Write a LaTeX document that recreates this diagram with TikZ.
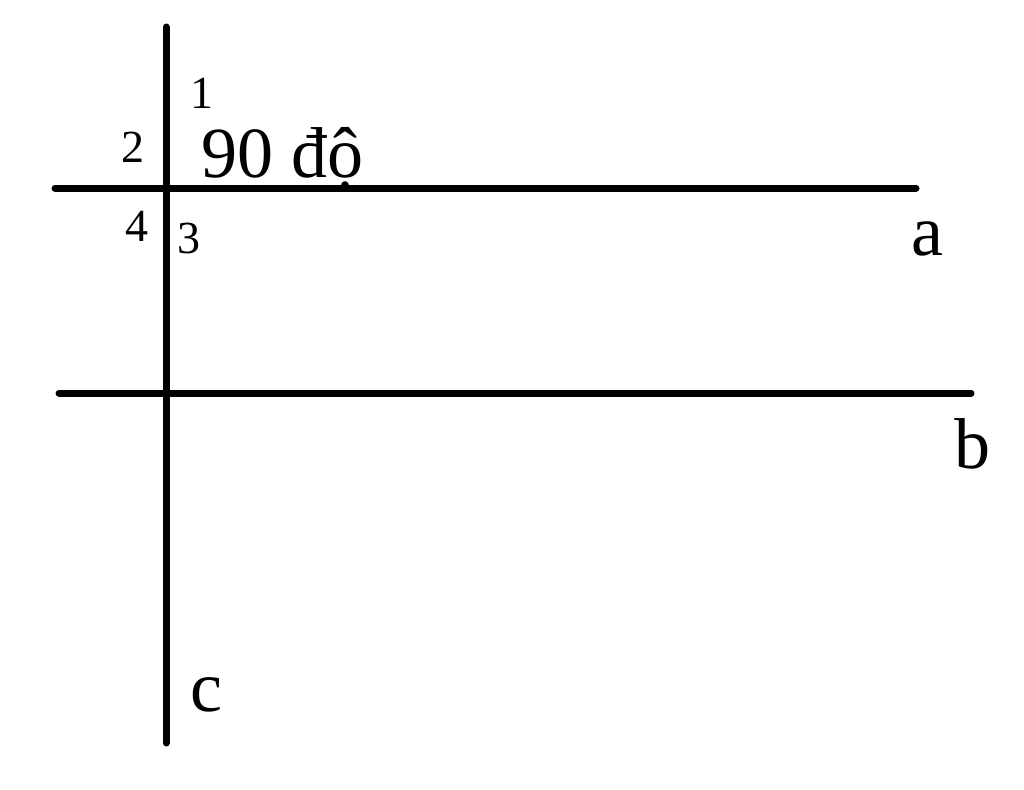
\documentclass[tikz,border=0pt]{standalone}
\usepackage{fontspec}
\setmainfont{Liberation Serif}
\begin{document}
\begin{tikzpicture}[x=1pt,y=-1pt,
  ln/.style={line width=7pt,line cap=round},
  small/.style={inner sep=0pt,font=\fontsize{46}{50}\selectfont},
  big/.style={inner sep=0pt,font=\fontsize{72}{78}\selectfont}]
\useasboundingbox (0,0) rectangle (1024,789);
\coordinate (ct) at (166,27);
\coordinate (cb) at (166,743);
\coordinate (al) at (55,188);
\coordinate (ar) at (916,188);
\coordinate (bl) at (59,393);
\coordinate (br) at (971,393);
\draw[ln] (ct) -- (cb);
\draw[ln] (al) -- (ar);
\draw[ln] (bl) -- (br);
\node[small,anchor=base] (n1) at (202,109) {1};
\node[small,anchor=base] (n2) at (133,162) {2};
\node[small,anchor=base] (n4) at (137,241) {4};
\node[small,anchor=base] (n3) at (189,253) {3};
\node[big,anchor=base west] (deg) at (201,177) {90 độ};
\node[big,anchor=base] (la) at (927,255) {a};
\node[big,anchor=base] (lb) at (972,468) {b};
\node[big,anchor=base] (lc) at (206,711) {c};
\end{tikzpicture}
\end{document}
